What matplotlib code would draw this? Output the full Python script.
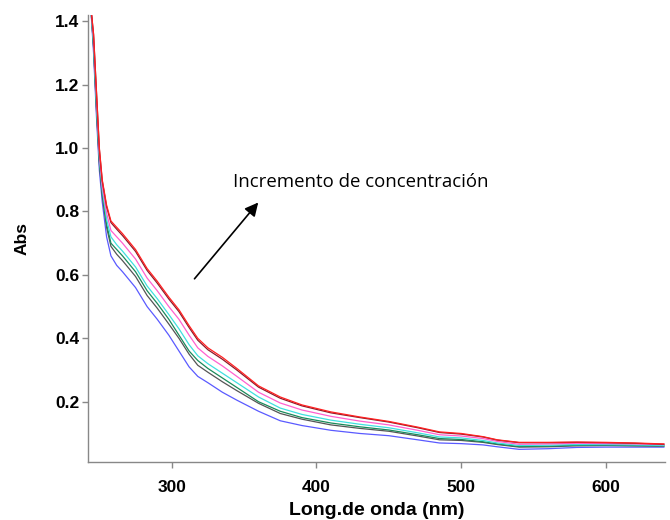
import numpy as np
import matplotlib.pyplot as plt

# wavelengths (nm)
wl = [244, 246, 248, 250, 252, 255, 258, 262, 266, 275, 283, 290, 298, 305, 312, 318,
      325, 335, 345, 360, 375, 390, 410, 430, 450, 470, 485, 500, 515, 525, 540, 560,
      580, 600, 620, 640]

# absorbance curves, lowest concentration first
abs_blue = [1.45, 1.30, 1.10, 0.93, 0.83, 0.72, 0.66, 0.63, 0.61, 0.56, 0.50, 0.46, 0.41, 0.36,
            0.31, 0.28, 0.26, 0.23, 0.205, 0.17, 0.14, 0.125, 0.11, 0.10, 0.093, 0.08, 0.07,
            0.068, 0.064, 0.058, 0.05, 0.052, 0.056, 0.057, 0.057, 0.057]
abs_gray = [1.45, 1.32, 1.12, 0.95, 0.85, 0.75, 0.69, 0.665, 0.645, 0.595, 0.535, 0.495, 0.445,
            0.40, 0.35, 0.315, 0.293, 0.263, 0.235, 0.195, 0.163, 0.145, 0.127, 0.116, 0.107,
            0.092, 0.08, 0.078, 0.072, 0.065, 0.057, 0.058, 0.061, 0.062, 0.061, 0.06]
abs_green = [1.45, 1.32, 1.13, 0.96, 0.86, 0.76, 0.70, 0.68, 0.66, 0.61, 0.55, 0.51, 0.46, 0.41,
             0.36, 0.33, 0.305, 0.275, 0.245, 0.20, 0.17, 0.15, 0.133, 0.121, 0.111, 0.096,
             0.084, 0.081, 0.074, 0.067, 0.059, 0.06, 0.063, 0.063, 0.062, 0.061]
abs_cyan = [1.45, 1.33, 1.14, 0.97, 0.87, 0.775, 0.72, 0.695, 0.675, 0.625, 0.565, 0.525, 0.475,
            0.43, 0.38, 0.345, 0.32, 0.29, 0.26, 0.215, 0.18, 0.16, 0.142, 0.129, 0.118, 0.102,
            0.089, 0.086, 0.078, 0.07, 0.062, 0.063, 0.065, 0.065, 0.064, 0.062]
abs_magenta = [1.45, 1.345, 1.16, 0.98, 0.88, 0.795, 0.74, 0.72, 0.70, 0.65, 0.59, 0.55, 0.50,
               0.46, 0.41, 0.37, 0.343, 0.313, 0.28, 0.23, 0.196, 0.174, 0.154, 0.139, 0.127,
               0.11, 0.096, 0.092, 0.084, 0.075, 0.066, 0.067, 0.069, 0.068, 0.067, 0.065]
abs_darkred = [1.45, 1.357, 1.176, 0.996, 0.896, 0.815, 0.765, 0.744, 0.724, 0.674, 0.614, 0.574,
               0.524, 0.484, 0.434, 0.394, 0.364, 0.334, 0.30, 0.246, 0.211, 0.187, 0.165, 0.15,
               0.136, 0.118, 0.103, 0.098, 0.089, 0.079, 0.071, 0.071, 0.072, 0.071, 0.069, 0.066]
abs_red = [1.45, 1.36, 1.18, 1.0, 0.90, 0.82, 0.77, 0.75, 0.73, 0.68, 0.62, 0.58, 0.53, 0.49,
           0.44, 0.40, 0.37, 0.34, 0.305, 0.25, 0.215, 0.19, 0.168, 0.152, 0.138, 0.12, 0.105,
           0.10, 0.09, 0.08, 0.072, 0.072, 0.073, 0.072, 0.07, 0.067]

series = [abs_blue, abs_gray, abs_green, abs_cyan, abs_magenta, abs_darkred, abs_red]
colors = ['#5a5aff', '#555555', '#1a8a5a', '#40e0e0', '#ff60d0', '#8b1a2a', '#ff2020']

fig = plt.figure(figsize=(6.7, 5.2), dpi=100)
ax = fig.add_axes([0.131, 0.1115, 0.862, 0.86])

for vals, c in zip(series, colors):
    ax.plot(wl, vals, color=c, lw=0.9)

ax.set_xlim(242, 641)
ax.set_ylim(0.01, 1.42)
ax.set_xticks([300, 400, 500, 600])
ax.set_yticks([0.2, 0.4, 0.6, 0.8, 1.0, 1.2, 1.4])
ax.set_yticklabels(['0.2', '0.4', '0.6', '0.8', '1.0', '1.2', '1.4'])

for s in ['top', 'right']:
    ax.spines[s].set_visible(False)
for s in ['left', 'bottom']:
    ax.spines[s].set_color('#888888')
    ax.spines[s].set_linewidth(1.0)
ax.tick_params(colors='#888888', labelcolor='black', length=4, width=1, direction='out')
ax.tick_params(axis='y', pad=2)
ax.tick_params(axis='x', pad=9)
for lab in ax.get_xticklabels() + ax.get_yticklabels():
    lab.set_fontweight('bold')
    lab.set_fontsize(12.5)
    lab.set_family('Liberation Sans')

ax.set_xlabel('Long.de onda (nm)', fontsize=14, fontweight='bold', family='Liberation Sans', labelpad=5)
ax.set_ylabel('Abs', fontsize=12.5, fontweight='bold', family='Liberation Sans', labelpad=18)

ax.annotate('', xy=(361, 0.835), xytext=(314.5, 0.581),
            arrowprops=dict(arrowstyle='-|>', color='black', lw=1.2, mutation_scale=20))
ax.text(342, 0.892, 'Incremento de concentración', fontsize=13.4, family='Open Sans',
        va='center', ha='left')

fig.savefig('out.png', dpi=100)
